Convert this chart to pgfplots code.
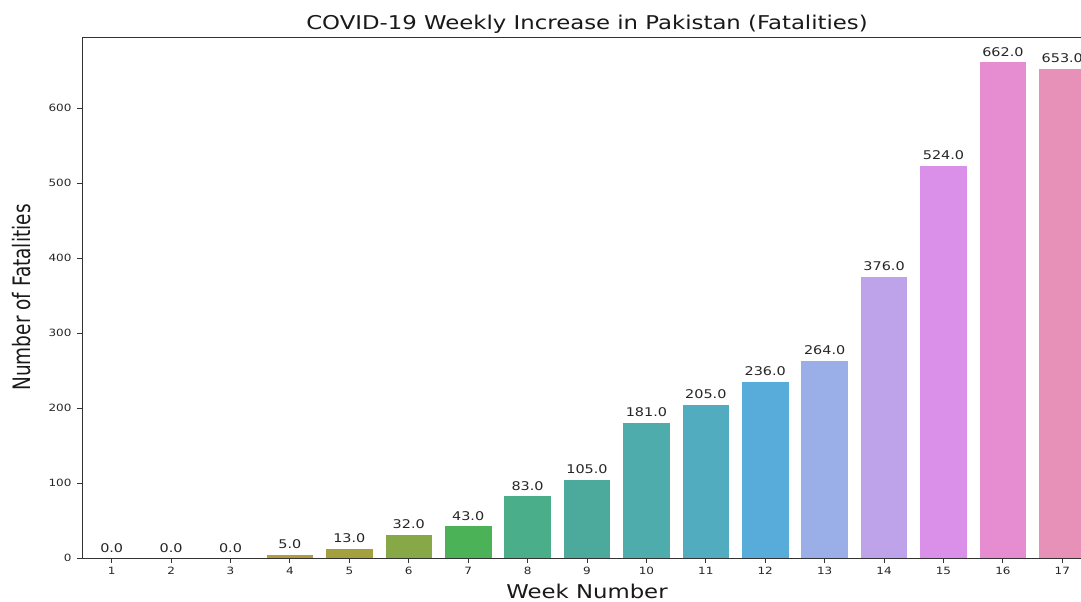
\documentclass[border=0pt]{standalone}
\usepackage{pgfplots}
\pgfplotsset{compat=1.18}
\usepackage{fontspec}
\setmainfont{DejaVu Sans}[FakeStretch=1.2]
\newfontfamily\narrowfont[FakeStretch=0.77]{DejaVu Sans}
\definecolor{c1}{HTML}{F77189}
\definecolor{c2}{HTML}{F37A48}
\definecolor{c3}{HTML}{D58C32}
\definecolor{c4}{HTML}{B39B3E}
\definecolor{c5}{HTML}{A3A03D}
\definecolor{c6}{HTML}{86A846}
\definecolor{c7}{HTML}{4CB257}
\definecolor{c8}{HTML}{49AE89}
\definecolor{c9}{HTML}{4CAA9C}
\definecolor{c10}{HTML}{4FACAD}
\definecolor{c11}{HTML}{52ACC0}
\definecolor{c12}{HTML}{58ACD9}
\definecolor{c13}{HTML}{9AAEE7}
\definecolor{c14}{HTML}{BEA3EA}
\definecolor{c15}{HTML}{DA90E9}
\definecolor{c16}{HTML}{E68DD2}
\definecolor{c17}{HTML}{E891B8}
\definecolor{axc}{HTML}{333333}
\begin{document}
\begin{tikzpicture}
\begin{axis}[
  at={(0,0)}, anchor=south west,
  scale only axis, width=1010pt, height=521pt,
  xmin=-0.5, xmax=16.5, ymin=0, ymax=695,
  xtick={0,...,16}, xticklabels={1,2,3,4,5,6,7,8,9,10,11,12,13,14,15,16,17},
  ytick={0,100,...,600},
  tick align=outside, major tick length=5pt, tick pos=left,
  axis on top,
  axis line style={axc, line width=0.9pt},
  tick style={axc, line width=0.9pt},
  /pgf/number format/assume math mode=true,
  tick label style={font=\fontsize{10}{12}\selectfont, text=black!85},
  xticklabel style={yshift=-1pt},
  yticklabel style={xshift=-2pt},
  title={COVID-19 Weekly Increase in Pakistan (Fatalities)},
  title style={at={(axis description cs:0.5,1)}, anchor=base, yshift=1pt, font=\fontsize{19}{22}\selectfont, text=black!90},
  xlabel={Week Number},
  xlabel style={at={(axis description cs:0.5,0)}, anchor=base, yshift=-40pt, font=\fontsize{19}{22}\selectfont, text=black!90},
  ylabel={\narrowfont Number of Fatalities},
  ylabel style={at={(axis description cs:0,0.5)}, anchor=base, yshift=51pt, font=\fontsize{24}{27}\selectfont, text=black!90},
  ybar, bar width=0.8, bar shift=0pt,
  every axis plot/.append style={draw=white, line width=0.8pt},
  nodes near coords,
  nodes near coords style={anchor=south, inner sep=0pt, yshift=5pt, font=\fontsize{12}{14}\selectfont, text=black!85,
    /pgf/number format/.cd, fixed, fixed zerofill, precision=1, assume math mode=true},
  clip=false,
]
\addplot[fill=c1] coordinates {(0,0)};
\addplot[fill=c2] coordinates {(1,0)};
\addplot[fill=c3] coordinates {(2,0)};
\addplot[fill=c4] coordinates {(3,5)};
\addplot[fill=c5] coordinates {(4,13)};
\addplot[fill=c6] coordinates {(5,32)};
\addplot[fill=c7] coordinates {(6,43)};
\addplot[fill=c8] coordinates {(7,83)};
\addplot[fill=c9] coordinates {(8,105)};
\addplot[fill=c10] coordinates {(9,181)};
\addplot[fill=c11] coordinates {(10,205)};
\addplot[fill=c12] coordinates {(11,236)};
\addplot[fill=c13] coordinates {(12,264)};
\addplot[fill=c14] coordinates {(13,376)};
\addplot[fill=c15] coordinates {(14,524)};
\addplot[fill=c16] coordinates {(15,662)};
\addplot[fill=c17] coordinates {(16,653)};
\end{axis}
\pgfresetboundingbox
\useasboundingbox (-82pt,-44pt) rectangle (999pt,558pt);
\end{tikzpicture}
\end{document}
